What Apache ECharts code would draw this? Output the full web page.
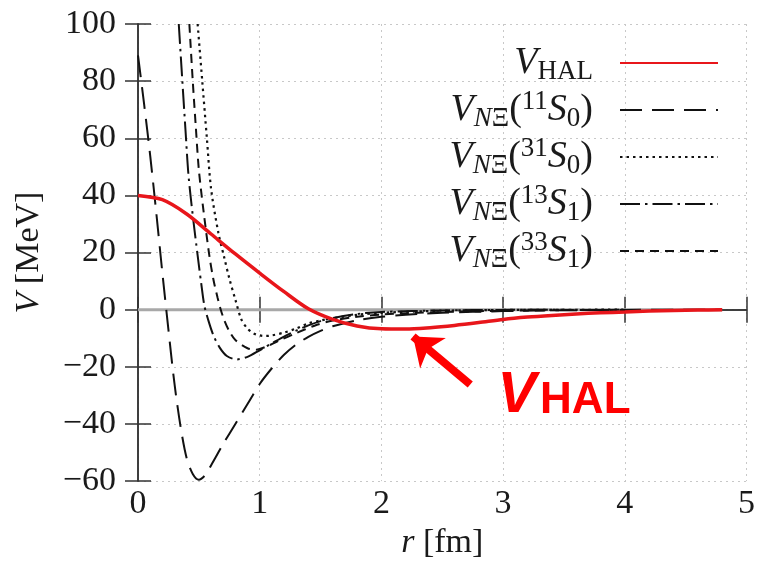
<!DOCTYPE html>
<html>
<head>
<meta charset="utf-8">
<script src="https://cdn.jsdelivr.net/npm/echarts@6/dist/echarts.min.js"></script>
<style>html,body{margin:0;padding:0;background:#fff;}#c{width:758px;height:565px;}</style>
</head>
<body>
<div id="c"></div>
<script>
// ---- data ----
var xTicks = [0, 1, 2, 3, 4, 5];
var yTicks = [-60, -40, -20, 0, 20, 40, 60, 80, 100];

var rHAL = [0,0.2,0.4,0.6,0.8,1.0,1.2,1.4,1.6,1.8,2.0,2.2,2.4,2.6,2.8,3.0,3.2,3.4,3.6,3.8,4.0,4.2,4.4,4.6,4.8];
var vHAL = [40,38.5,33.5,26.5,19.5,12.8,6.3,0.3,-3.4,-5.7,-6.7,-6.8,-6.3,-5.5,-4.5,-3.4,-2.6,-2.0,-1.5,-1.1,-0.8,-0.5,-0.3,-0.15,-0.05];

var r11S0 = [0,0.05,0.1,0.15,0.2,0.25,0.3,0.35,0.4,0.45,0.5,0.55,0.6,0.7,0.8,0.9,1.0,1.1,1.2,1.3,1.4,1.5,1.6,1.8,2.0,2.2,2.5,3.0,3.5,4.0,4.8];
var v11S0 = [89,72,54,34,13,-7,-26,-41,-52,-57.5,-59.5,-58,-54.5,-47,-40,-33,-26,-20.5,-15.8,-12.2,-9.5,-7.4,-5.8,-3.7,-2.5,-1.8,-1.1,-0.5,-0.2,-0.08,0];

var r31S0 = [0.49,0.528,0.566,0.6,0.66,0.71,0.75,0.8,0.85,0.9,0.95,1.0,1.05,1.1,1.2,1.3,1.4,1.5,1.6,1.8,2.0,2.5,3.0,3.5,4.0];
var v31S0 = [100,80,60,42.5,27,18,11,3.5,-3.5,-6.6,-8.3,-9.0,-9.2,-9.0,-8.0,-6.6,-4.8,-3.8,-3.0,-1.8,-1.1,-0.35,-0.1,-0.03,0];

var r13S1 = [0.335,0.36,0.39,0.415,0.45,0.49,0.52,0.545,0.58,0.62,0.67,0.73,0.81,0.9,1.0,1.1,1.2,1.3,1.4,1.5,1.6,1.8,2.0,2.5,3.0,3.5];
var v13S1 = [100,83,63,47,33,19,9,1.5,-4,-9,-13.2,-16.2,-17.4,-16.5,-14.2,-11.8,-9.4,-7.3,-5.5,-4.0,-2.9,-1.5,-0.8,-0.25,-0.08,0];

var r33S1 = [0.422,0.45,0.475,0.5,0.54,0.586,0.62,0.654,0.68,0.71,0.75,0.8,0.9,0.97,1.05,1.15,1.3,1.45,1.6,1.8,2.0,2.3,2.6,3.0,3.5,4.0];
var v33S1 = [100,80,64,49,34,19,10.5,4.2,0,-3.8,-7.5,-10.6,-13.5,-14,-13,-11,-8.2,-5.6,-3.8,-2.5,-1.7,-1.1,-0.7,-0.4,-0.15,-0.05];

var rZero = [0, 4.8];
var vZero = [0, 0];

// annotation: arrow (tail, tip) and label centre, in data coordinates
var arrowTail = [2.73, -26.2];
var arrowTip = [2.26, -9.4];
var annotAt = [3.5, -29.9];

var seriesNames = ['HAL', '11S0', '31S0', '13S1', '33S1'];

function zip(a, b) { return a.map(function (x, i) { return [x, b[i]]; }); }

var SERIF = 'Liberation Serif';
var SANS = 'Liberation Sans';
var fs = 34;
var ink = '#1a1a1a';

var legendRich = {
  v: { fontFamily: SERIF, fontStyle: 'italic', fontSize: 38, lineHeight: 44, verticalAlign: 'middle', color: ink },
  n: { fontFamily: SERIF, fontSize: 38, lineHeight: 44, verticalAlign: 'middle', color: ink },
  sub: { fontFamily: SERIF, fontSize: 27, lineHeight: 24, verticalAlign: 'bottom', color: ink },
  subi: { fontFamily: SERIF, fontStyle: 'italic', fontSize: 27, lineHeight: 24, verticalAlign: 'bottom', color: ink },
  sup: { fontFamily: SERIF, fontSize: 27, lineHeight: 27, verticalAlign: 'top', color: ink },
  gap: { width: 22, fontSize: 10 }
};

function legendLabel(name) {
  if (name === 'HAL') return '{v|V}{sub|HAL}{gap| }';
  var sup = name.slice(0, 2), s = name.slice(3);
  return '{v|V}{subi|N}{sub|Ξ}{n|(}{sup|' + sup + '}{v|S}{sub|' + s + '}{n|)}{gap| }';
}

var chart = echarts.init(document.getElementById('c'));

function fmtNum(v) { return v < 0 ? '\u2212' + Math.abs(v) : String(v); }

var nameRich = {
  i: { fontFamily: SERIF, fontStyle: 'italic', fontSize: fs, color: ink },
  t: { fontFamily: SERIF, fontStyle: 'normal', fontSize: fs, color: ink }
};

var lineAx = { show: true, lineStyle: { color: '#333', width: 1.5 } };
var tickAx = { show: true, inside: true, length: 13, lineStyle: { color: '#333', width: 1.5 } };
var gridLine = { show: true, lineStyle: { color: '#c8c8c8', width: 1, type: [2, 4] } };

var option = {
  animation: false,
  backgroundColor: '#fff',
  grid: { left: 138, right: 9, top: 24, bottom: 74 },
  legend: {
    orient: 'vertical',
    right: 34,
    top: 39,
    align: 'right',
    itemWidth: 98,
    itemHeight: 14,
    itemGap: 3,
    data: seriesNames,
    formatter: legendLabel,
    itemStyle: { color: 'rgba(0,0,0,0)', borderColor: 'rgba(0,0,0,0)', borderWidth: 0, opacity: 0 },
    textStyle: { fontFamily: SERIF, rich: legendRich },
    selectedMode: false
  },
  xAxis: [
    {
      type: 'value', min: xTicks[0], max: xTicks[xTicks.length - 1], interval: 1,
      position: 'bottom',
      axisLine: lineAx, axisTick: tickAx, splitLine: gridLine,
      axisLabel: { fontFamily: SERIF, fontStyle: 'normal', fontSize: fs, color: ink, margin: 6, formatter: fmtNum },
      name: '{i|r}{t| [fm]}',
      nameLocation: 'middle',
      nameGap: 36,
      nameTextStyle: { fontFamily: SERIF, fontSize: fs, color: ink, rich: nameRich }
    },
    {
      type: 'value', min: xTicks[0], max: xTicks[xTicks.length - 1], interval: 1,
      position: 'top',
      axisLine: lineAx, axisTick: tickAx, splitLine: { show: false },
      axisLabel: { show: false }
    }
  ],
  yAxis: [
    {
      type: 'value', min: yTicks[0], max: yTicks[yTicks.length - 1], interval: 20,
      position: 'left',
      axisLine: lineAx, axisTick: tickAx, splitLine: gridLine,
      axisLabel: { fontFamily: SERIF, fontStyle: 'normal', fontSize: fs, color: ink, margin: 22, formatter: fmtNum },
      name: '{i|V}{t| [MeV]}',
      nameLocation: 'middle',
      nameGap: 92,
      nameTextStyle: { fontFamily: SERIF, fontSize: fs, color: ink, rich: nameRich }
    },
    {
      type: 'value', min: yTicks[0], max: yTicks[yTicks.length - 1], interval: 20,
      position: 'right',
      axisLine: lineAx, axisTick: tickAx, splitLine: { show: false },
      axisLabel: { show: false }
    }
  ],
  series: [
    {
      name: 'zero', type: 'line', data: zip(rZero, vZero), symbol: 'none', silent: true, z: 1,
      lineStyle: { color: '#a8a8a8', width: 3 }
    },
    {
      name: '11S0', type: 'line', data: zip(r11S0, v11S0), symbol: 'none', smooth: 0.3, z: 3,
      lineStyle: { color: '#111', width: 2, type: [22, 10] }
    },
    {
      name: '31S0', type: 'line', data: zip(r31S0, v31S0), symbol: 'none', smooth: 0.3, z: 3,
      lineStyle: { color: '#111', width: 2.2, type: [2.5, 4] }
    },
    {
      name: '13S1', type: 'line', data: zip(r13S1, v13S1), symbol: 'none', smooth: 0.3, z: 3,
      lineStyle: { color: '#111', width: 2, type: [20, 5, 2.5, 5] }
    },
    {
      name: '33S1', type: 'line', data: zip(r33S1, v33S1), symbol: 'none', smooth: 0.3, z: 3,
      lineStyle: { color: '#111', width: 2, type: [9, 6] }
    },
    {
      name: 'HAL', type: 'line', data: zip(rHAL, vHAL), symbol: 'none', smooth: 0.3, z: 5,
      lineStyle: { color: '#e8161b', width: 3.5 },
      itemStyle: { color: '#e8161b' },
      markLine: {
        silent: true,
        symbol: ['none', 'arrow'],
        symbolSize: [30, 26],
        label: { show: false },
        lineStyle: { color: '#ff0000', width: 8, type: 'solid' },
        data: [[{ coord: arrowTail }, { coord: arrowTip }]]
      },
      markPoint: {
        silent: true,
        symbol: 'circle',
        symbolSize: 0,
        itemStyle: { color: 'rgba(0,0,0,0)' },
        label: {
          show: true,
          position: 'inside',
          formatter: '{v|V}{h|HAL}',
          rich: {
            v: { fontFamily: SANS, fontStyle: 'italic', fontWeight: 'bold', fontSize: 58, color: '#ff0000', lineHeight: 56, verticalAlign: 'top' },
            h: { fontFamily: SANS, fontStyle: 'normal', fontWeight: 'bold', fontSize: 44, color: '#ff0000', lineHeight: 48, verticalAlign: 'bottom', padding: [0, 0, 0, 4] }
          }
        },
        data: [{ coord: annotAt }]
      }
    }
  ]
};

chart.setOption(option);
</script>
</body>
</html>
